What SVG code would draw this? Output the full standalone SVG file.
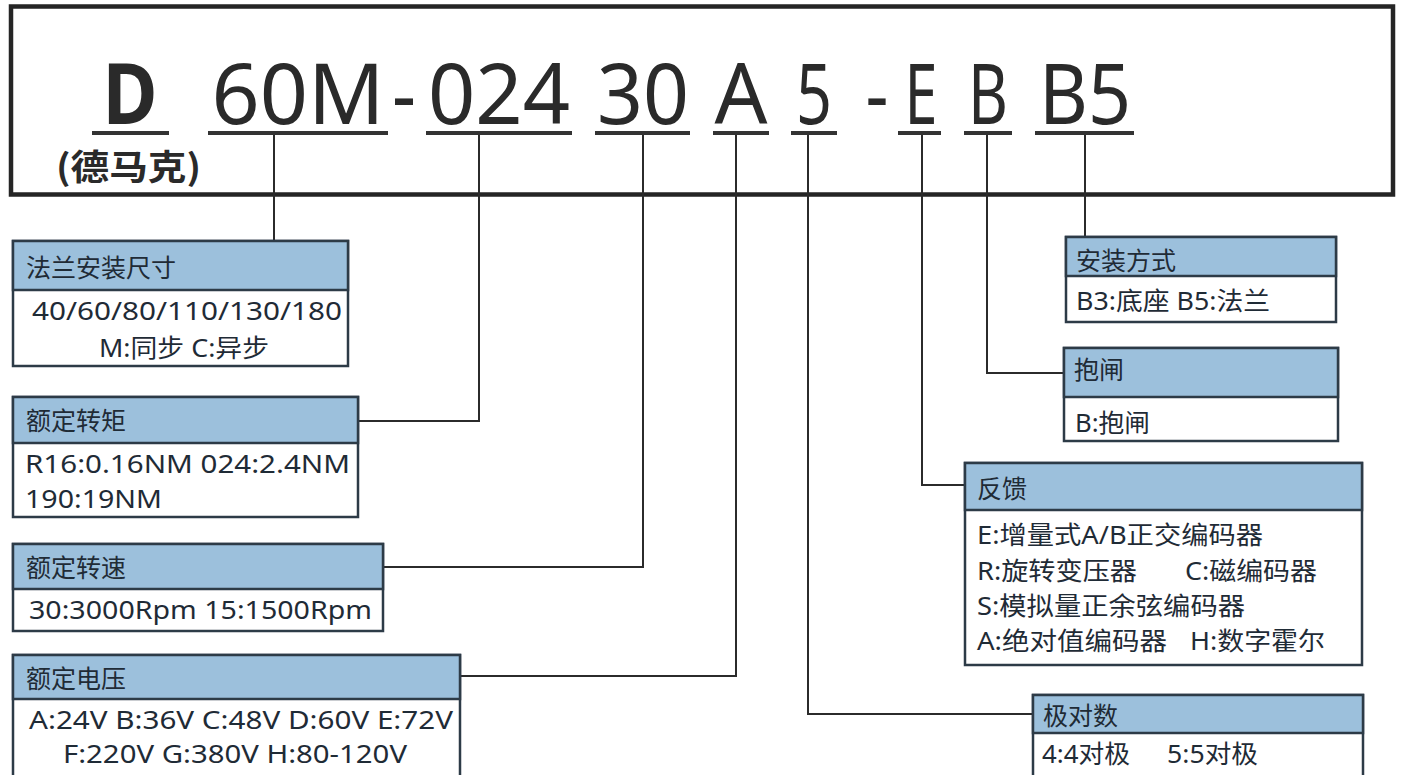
<svg xmlns="http://www.w3.org/2000/svg" width="1403" height="775" viewBox="0 0 1403 775">
<style>
.frame{fill:none;stroke:#252525;stroke-width:4.5}
.big{font-family:"Noto Sans","Liberation Sans",sans-serif;font-size:84px;fill:#2a2a2a}
.ul{stroke:#333;stroke-width:4}
.conn line,.conn polyline{fill:none;stroke:#2b2b2b;stroke-width:2}
.box{fill:#fff;stroke:#2d3b47;stroke-width:2.5}
.hdr{fill:#9cc0dc;stroke:#2d3b47;stroke-width:2.5}
.t{font-family:"Noto Sans","Noto Sans CJK SC",sans-serif;font-size:25px;fill:#1f2b36}
</style>
<rect x="0" y="0" width="1403" height="775" fill="#fff"/>
<rect class="frame" x="11" y="6.5" width="1382" height="188"/>
<g id="code">
<text class="big" x="130" y="124" text-anchor="middle" font-weight="bold" textLength="55" lengthAdjust="spacingAndGlyphs">D</text>
<text class="big" x="298" y="124" text-anchor="middle" textLength="173" lengthAdjust="spacingAndGlyphs">60M</text>
<text class="big" x="404" y="124" text-anchor="middle" textLength="24" lengthAdjust="spacingAndGlyphs">-</text>
<text class="big" x="499" y="124" text-anchor="middle" textLength="142" lengthAdjust="spacingAndGlyphs">024</text>
<text class="big" x="643" y="124" text-anchor="middle" textLength="92" lengthAdjust="spacingAndGlyphs">30</text>
<text class="big" x="741" y="124" text-anchor="middle" textLength="53" lengthAdjust="spacingAndGlyphs">A</text>
<text class="big" x="814" y="124" text-anchor="middle" textLength="36" lengthAdjust="spacingAndGlyphs">5</text>
<text class="big" x="877" y="124" text-anchor="middle" textLength="23" lengthAdjust="spacingAndGlyphs">-</text>
<text class="big" x="921" y="124" text-anchor="middle" textLength="33" lengthAdjust="spacingAndGlyphs">E</text>
<text class="big" x="988" y="124" text-anchor="middle" textLength="40" lengthAdjust="spacingAndGlyphs">B</text>
<text class="big" x="1085" y="124" text-anchor="middle" textLength="92" lengthAdjust="spacingAndGlyphs">B5</text>
<text x="56" y="180" font-family="Noto Sans CJK SC,Noto Sans,sans-serif" font-size="35" font-weight="bold" fill="#2a2a2a" textLength="145" lengthAdjust="spacingAndGlyphs">(德马克)</text>
<line class="ul" x1="92" y1="133" x2="169" y2="133"/>
<line class="ul" x1="208" y1="133" x2="388" y2="133"/>
<line class="ul" x1="426" y1="133" x2="572" y2="133"/>
<line class="ul" x1="595" y1="133" x2="690" y2="133"/>
<line class="ul" x1="713" y1="133" x2="769" y2="133"/>
<line class="ul" x1="791" y1="133" x2="837" y2="133"/>
<line class="ul" x1="898" y1="133" x2="941" y2="133"/>
<line class="ul" x1="964" y1="133" x2="1012" y2="133"/>
<line class="ul" x1="1035" y1="133" x2="1134" y2="133"/>
</g>
<g id="connectors" class="conn">
<line x1="274" y1="135" x2="274" y2="241"/>
<polyline points="479,135 479,421 358,421"/>
<polyline points="643,135 643,567 384,567"/>
<polyline points="736,135 736,676 460,676"/>
<polyline points="808,135 808,714 1033,714"/>
<polyline points="922,135 922,485 965,485"/>
<polyline points="987,135 987,373 1064,373"/>
<line x1="1085" y1="135" x2="1085" y2="237"/>
</g>
<g id="flange">
<rect class="box" x="13" y="241" width="335" height="125"/>
<rect class="hdr" x="13" y="241" width="335" height="49"/>
<text class="t" x="26" y="277">法兰安装尺寸</text>
<text class="t" x="32" y="320" textLength="310" lengthAdjust="spacingAndGlyphs">40/60/80/110/130/180</text>
<text class="t" x="99" y="357" textLength="170" lengthAdjust="spacingAndGlyphs">M:同步 C:异步</text>
</g>
<g id="torque">
<rect class="box" x="13" y="397" width="345" height="120"/>
<rect class="hdr" x="13" y="397" width="345" height="46"/>
<text class="t" x="26" y="430">额定转矩</text>
<text class="t" x="25" y="473" textLength="325" lengthAdjust="spacingAndGlyphs">R16:0.16NM  024:2.4NM</text>
<text class="t" x="25" y="508" textLength="137" lengthAdjust="spacingAndGlyphs">190:19NM</text>
</g>
<g id="speed">
<rect class="box" x="13" y="544" width="370" height="87"/>
<rect class="hdr" x="13" y="544" width="370" height="45"/>
<text class="t" x="26" y="577">额定转速</text>
<text class="t" x="29" y="619" textLength="343" lengthAdjust="spacingAndGlyphs">30:3000Rpm 15:1500Rpm</text>
</g>
<g id="voltage">
<rect class="box" x="13" y="655" width="447" height="130"/>
<rect class="hdr" x="13" y="655" width="447" height="44"/>
<text class="t" x="26" y="688">额定电压</text>
<text class="t" x="29" y="729" textLength="424" lengthAdjust="spacingAndGlyphs">A:24V B:36V C:48V D:60V  E:72V</text>
<text class="t" x="63" y="763" textLength="344" lengthAdjust="spacingAndGlyphs">F:220V G:380V H:80-120V</text>
</g>
<g id="mount">
<rect class="box" x="1066" y="237" width="270" height="85"/>
<rect class="hdr" x="1066" y="237" width="270" height="39"/>
<text class="t" x="1076" y="270">安装方式</text>
<text class="t" x="1076" y="310" textLength="194" lengthAdjust="spacingAndGlyphs">B3:底座 B5:法兰</text>
</g>
<g id="brake">
<rect class="box" x="1064" y="348" width="274" height="93"/>
<rect class="hdr" x="1064" y="348" width="274" height="49"/>
<text class="t" x="1074" y="379">抱闸</text>
<text class="t" x="1075" y="432" textLength="75" lengthAdjust="spacingAndGlyphs">B:抱闸</text>
</g>
<g id="feedback">
<rect class="box" x="965" y="463" width="397" height="202"/>
<rect class="hdr" x="965" y="463" width="397" height="47"/>
<text class="t" x="977" y="498">反馈</text>
<text class="t" x="977" y="544" textLength="286" lengthAdjust="spacingAndGlyphs">E:增量式A/B正交编码器</text>
<text class="t" x="977" y="580" textLength="160" lengthAdjust="spacingAndGlyphs">R:旋转变压器</text>
<text class="t" x="1185" y="580" textLength="132" lengthAdjust="spacingAndGlyphs">C:磁编码器</text>
<text class="t" x="977" y="615" textLength="268" lengthAdjust="spacingAndGlyphs">S:模拟量正余弦编码器</text>
<text class="t" x="977" y="650" textLength="190" lengthAdjust="spacingAndGlyphs">A:绝对值编码器</text>
<text class="t" x="1190" y="650" textLength="135" lengthAdjust="spacingAndGlyphs">H:数字霍尔</text>
</g>
<g id="poles">
<rect class="box" x="1033" y="695" width="330" height="90"/>
<rect class="hdr" x="1033" y="695" width="330" height="38"/>
<text class="t" x="1043" y="725">极对数</text>
<text class="t" x="1042" y="763" textLength="88" lengthAdjust="spacingAndGlyphs">4:4对极</text>
<text class="t" x="1167" y="763" textLength="91" lengthAdjust="spacingAndGlyphs">5:5对极</text>
</g>
</svg>
